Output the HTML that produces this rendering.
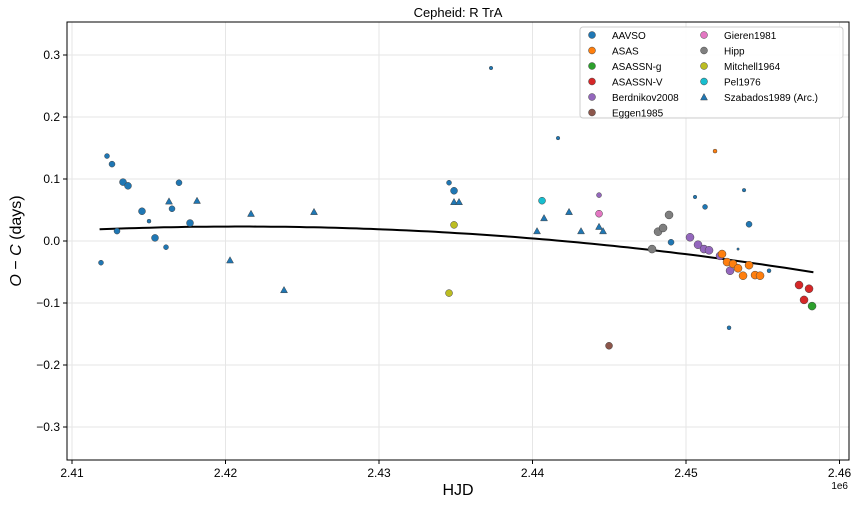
<!DOCTYPE html>
<html><head><meta charset="utf-8"><style>
body{margin:0;background:#fff;}
svg text{font-family:"Liberation Sans","DejaVu Sans",sans-serif;fill:#000;}
</style></head><body>
<svg id="chart" width="858" height="504" xmlns="http://www.w3.org/2000/svg">
<text x="458" y="17" font-size="13" text-anchor="middle">Cepheid: R TrA</text>
<g id="grid"></g>
<g id="marks"></g>
<rect x="67" y="22" width="782" height="438" fill="none" stroke="#000" stroke-width="1"/>
<g id="axes"></g>
<text x="458" y="495" font-size="16" text-anchor="middle">HJD</text>
<text x="848" y="489" font-size="10" text-anchor="end">1e6</text>
<text transform="translate(21,241) rotate(-90)" font-size="16" text-anchor="middle"><tspan font-style="italic">O</tspan> − <tspan font-style="italic">C</tspan> (days)</text>
<g id="legend"></g>
</svg>
<script>
const xTicks=[2410000,2420000,2430000,2440000,2450000,2460000];
const xTickLabels=["2.41","2.42","2.43","2.44","2.45","2.46"];
const yTicks=[-0.3,-0.2,-0.1,0,0.1,0.2,0.3];
const yTickLabels=["−0.3","−0.2","−0.1","0.0","0.1","0.2","0.3"];
const aavsoX=[2411889,2412280,2412606,2412932,2413323,2413648,2414560,2415017,2415407,2416124,2416515,2416971,2417688,2434562,2434888,2437298,2441663,2449025,2450588,2451240,2452804,2453390,2453781,2454107,2455410];
const aavsoY=[-0.035,0.137,0.124,0.016,0.095,0.089,0.048,0.032,0.005,-0.010,0.052,0.094,0.029,0.094,0.081,0.279,0.166,-0.002,0.071,0.055,-0.140,-0.013,0.082,0.027,-0.048];
const aavsoR=[2.5,2.5,3,3,3.5,3.5,3.5,2,3.5,2.5,3,3,3.5,2.5,3.5,1.8,1.8,3,1.8,2.5,2,1.2,1.8,3,2];
const szabX=[2416319,2418144,2420294,2421662,2423812,2425766,2434887,2435213,2440295,2440751,2442380,2443161,2444334,2444595];
const szabY=[0.064,0.065,-0.031,0.044,-0.079,0.047,0.063,0.063,0.016,0.037,0.047,0.016,0.023,0.016];
const mitX=[2434888,2434562]; const mitY=[0.026,-0.084];
const pelX=[2440621]; const pelY=[0.065];
const berX=[2444334,2450262,2450783,2451174,2451501,2452217,2452869];
const berY=[0.074,0.006,-0.006,-0.013,-0.015,-0.024,-0.048];
const berR=[2.5,4,4,4,4,4,4];
const gieX=[2444334]; const gieY=[0.044];
const eggX=[2444986]; const eggY=[-0.169];
const hippX=[2447787,2448178,2448504,2448895]; const hippY=[-0.013,0.015,0.021,0.042];
const asasX=[2451891,2452347,2452673,2453065,2453390,2453716,2454107,2454498,2454824];
const asasY=[0.145,-0.021,-0.034,-0.037,-0.044,-0.056,-0.039,-0.055,-0.056];
const asasR=[2,4,4,4,4,4,4,4,4];
const asvX=[2457364,2458016,2457690]; const asvY=[-0.071,-0.077,-0.095];
const asgX=[2458212]; const asgY=[-0.105];
const fitCoef=[0.019,-0.00957,-0.00528]; // in t=(HJD-2430000)/1e4
const fitRange=[2411800,2458300];
const legendLabels=["AAVSO","ASAS","ASASSN-g","ASASSN-V","Berdnikov2008","Eggen1985","Gieren1981","Hipp","Mitchell1964","Pel1976","Szabados1989 (Arc.)"];
const legendColors=["#1f77b4","#ff7f0e","#2ca02c","#d62728","#9467bd","#8c564b","#e377c2","#7f7f7f","#bcbd22","#17becf","#1f77b4"];

const NS="http://www.w3.org/2000/svg";
const sx=v=>72+(v-2410000)*153.5/10000;
const sy=v=>241-v*620;
function mk(tag,attrs,parent){const e=document.createElementNS(NS,tag);for(const k in attrs)e.setAttribute(k,attrs[k]);parent.appendChild(e);return e;}
const grid=document.getElementById('grid'),axes=document.getElementById('axes'),marks=document.getElementById('marks'),leg=document.getElementById('legend');
xTicks.forEach((t,i)=>{const x=sx(t);
 const g=mk('line',{x1:x,x2:x,y1:22,y2:460,stroke:'#e6e6e6','stroke-width':1},grid);
 
 
 mk('line',{x1:x,x2:x,y1:460,y2:464,stroke:'#000'},axes);
 const tx=mk('text',{x:x,y:477,'font-size':12,'text-anchor':'middle'},axes);tx.textContent=xTickLabels[i];
 
 
});
yTicks.forEach((t,i)=>{const y=sy(t);
 const g=mk('line',{x1:67,x2:849,y1:y,y2:y,stroke:'#e6e6e6','stroke-width':1},grid);
 
 
 mk('line',{x1:63,x2:67,y1:y,y2:y,stroke:'#000'},axes);
 const tx=mk('text',{x:60,y:y+4,'font-size':12,'text-anchor':'end'},axes);tx.textContent=yTickLabels[i];
 
 
});
function dots(X,Y,R,color,name){X.forEach((x,i)=>{const r=Array.isArray(R)?R[i]:R;
 const c=mk('circle',{cx:sx(x),cy:sy(Y[i]),r:r,fill:color,stroke:'#444','stroke-width':0.5},marks);
 
 
});}
function tris(X,Y,color,name){X.forEach((x,i)=>{const cx=sx(x),cy=sy(Y[i]),s=3.5;
 const p=mk('polygon',{points:`${cx},${cy-s} ${cx-s},${cy+s*0.8} ${cx+s},${cy+s*0.8}`,fill:color,stroke:'#444','stroke-width':0.5},marks);
 
 
});}
let d='';for(let k=0;k<=100;k++){const h=fitRange[0]+(fitRange[1]-fitRange[0])*k/100;const t=(h-2430000)/10000;const v=fitCoef[0]+fitCoef[1]*t+fitCoef[2]*t*t;d+=(k?'L':'M')+sx(h).toFixed(1)+','+sy(v).toFixed(1);}
const fit=mk('path',{d:d,fill:'none',stroke:'#000','stroke-width':2},marks);


dots(aavsoX,aavsoY,aavsoR,'#1f77b4','aavso-point');
tris(szabX,szabY,'#1f77b4','szabados-point');
dots(mitX,mitY,3.5,'#bcbd22','mitchell-point');
dots(pelX,pelY,3.5,'#17becf','pel-point');
dots(gieX,gieY,3.5,'#e377c2','gieren-point');
dots(berX,berY,berR,'#9467bd','berdnikov-point');
dots(eggX,eggY,3.5,'#8c564b','eggen-point');
dots(hippX,hippY,4,'#7f7f7f','hipp-point');
dots(asasX,asasY,asasR,'#ff7f0e','asas-point');
dots(asvX,asvY,4,'#d62728','asassn-v-point');
dots(asgX,asgY,4,'#2ca02c','asassn-g-point');
const lb=mk('rect',{x:580,y:27,width:263,height:91,fill:'#fff','fill-opacity':0.85,stroke:'#ccc',rx:3},leg);


legendLabels.forEach((lab,i)=>{const col=i<6?0:1,row=i<6?i:i-6;const mx=col?704:592,y=35+row*15.5;
 let m;
 if(i===10){m=mk('polygon',{points:`${mx},${y-3.5} ${mx-3.5},${y+3} ${mx+3.5},${y+3}`,fill:legendColors[i],stroke:'#444','stroke-width':0.5},leg);}
 else{m=mk('circle',{cx:mx,cy:y,r:3.5,fill:legendColors[i],stroke:'#444','stroke-width':0.5},leg);}
 
 
 const t=mk('text',{x:mx+20,y:y+4,'font-size':10},leg);t.textContent=lab;
 
 
});
</script>
</body></html>
